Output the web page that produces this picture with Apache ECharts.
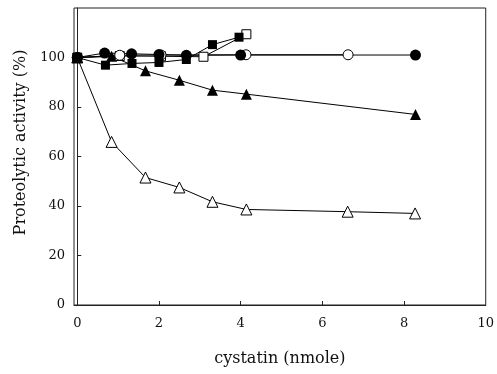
<!DOCTYPE html>
<html lang="en">
<head>
    <meta charset="UTF-8">
    <title>Proteolytic activity vs cystatin</title>
    <script src="https://cdn.jsdelivr.net/npm/echarts@6.0.0/dist/echarts.min.js"></script>
    <style>
        html, body { margin: 0; padding: 0; background: #fff; }
        #main { width: 497px; height: 374px; }
    </style>
</head>
<body>
<div id="main"></div>
<script type="text/javascript">
    // x = cystatin (nmole), y = proteolytic activity (%)
    var filledCircle = [[0, 100], [0.67, 101.8], [1.33, 101.5], [2, 101.2], [2.67, 100.9], [4, 101], [8.28, 101]];
    var openCircle = [[0, 100], [1.04, 100.9], [2.05, 101], [4.13, 101.1], [6.63, 101.1]];
    var filledSquare = [[0, 100], [0.69, 96.9], [1.34, 97.6], [2, 98], [2.67, 99.2], [3.31, 105.2], [3.96, 108.2]];
    var openSquare = [[0, 100], [1.04, 100.6], [2.05, 100.5], [3.09, 100.3], [4.14, 109.4]];
    var filledTriangle = [[0, 100], [0.84, 100.5], [1.67, 94.6], [2.5, 90.8], [3.31, 86.8], [4.14, 85.2], [8.28, 77]];
    var openTriangle = [[0, 100], [0.84, 65.9], [1.67, 51.5], [2.5, 47.5], [3.31, 41.7], [4.14, 38.6], [6.62, 37.7], [8.27, 37]];

    var xTicks = [0, 2, 4, 6, 8, 10];
    var yTicks = [0, 20, 40, 60, 80, 100];

    var font = 'DejaVu Serif';

    function mk(name, data, symbol, size, filled) {
        return {
            name: name,
            type: 'line',
            data: data,
            symbol: symbol,
            symbolSize: size,
            showAllSymbol: true,
            animation: false,
            lineStyle: { color: '#000', width: 1 },
            itemStyle: {
                color: filled ? '#000' : '#fff',
                borderColor: '#000',
                borderWidth: filled ? 0 : 1
            }
        };
    }

    var myChart = echarts.init(document.getElementById('main'));
    var option = {
        animation: false,
        grid: {
            left: 74, right: 9, top: 8, bottom: 69,
            show: true, borderColor: '#222', borderWidth: 1
        },
        xAxis: {
            type: 'value',
            min: -0.08,
            max: 10,
            name: 'cystatin (nmole)',
            nameLocation: 'middle',
            nameGap: 46,
            nameTextStyle: { fontFamily: font, fontSize: 16, color: '#111' },
            axisLine: { lineStyle: { color: '#222', width: 1 } },
            axisTick: { inside: true, length: 4, customValues: [0, 2, 4, 6, 8], lineStyle: { color: '#222' } },
            axisLabel: { customValues: xTicks, margin: 12, fontFamily: font, fontSize: 13, color: '#111' },
            splitLine: { show: false }
        },
        yAxis: {
            type: 'value',
            min: 0,
            max: 120,
            interval: 20,
            name: 'Proteolytic activity (%)',
            nameLocation: 'middle',
            nameGap: 43,
            nameTextStyle: { fontFamily: font, fontSize: 16, color: '#111', padding: [0, 0, 0, 28] },
            axisLine: { lineStyle: { color: '#222', width: 1 } },
            axisTick: { inside: true, length: 4, customValues: yTicks, lineStyle: { color: '#222' } },
            axisLabel: { customValues: yTicks, margin: 9, fontFamily: font, fontSize: 13, color: '#111' },
            splitLine: { show: false }
        },
        series: [
            mk('open triangle', openTriangle, 'triangle', 11, false),
            mk('filled triangle', filledTriangle, 'triangle', 11, true),
            mk('open square', openSquare, 'rect', 9, false),
            mk('open circle', openCircle, 'circle', 10, false),
            mk('filled square', filledSquare, 'rect', 9, true),
            mk('filled circle', filledCircle, 'circle', 11, true)
        ]
    };
    myChart.setOption(option);
</script>
</body>
</html>
